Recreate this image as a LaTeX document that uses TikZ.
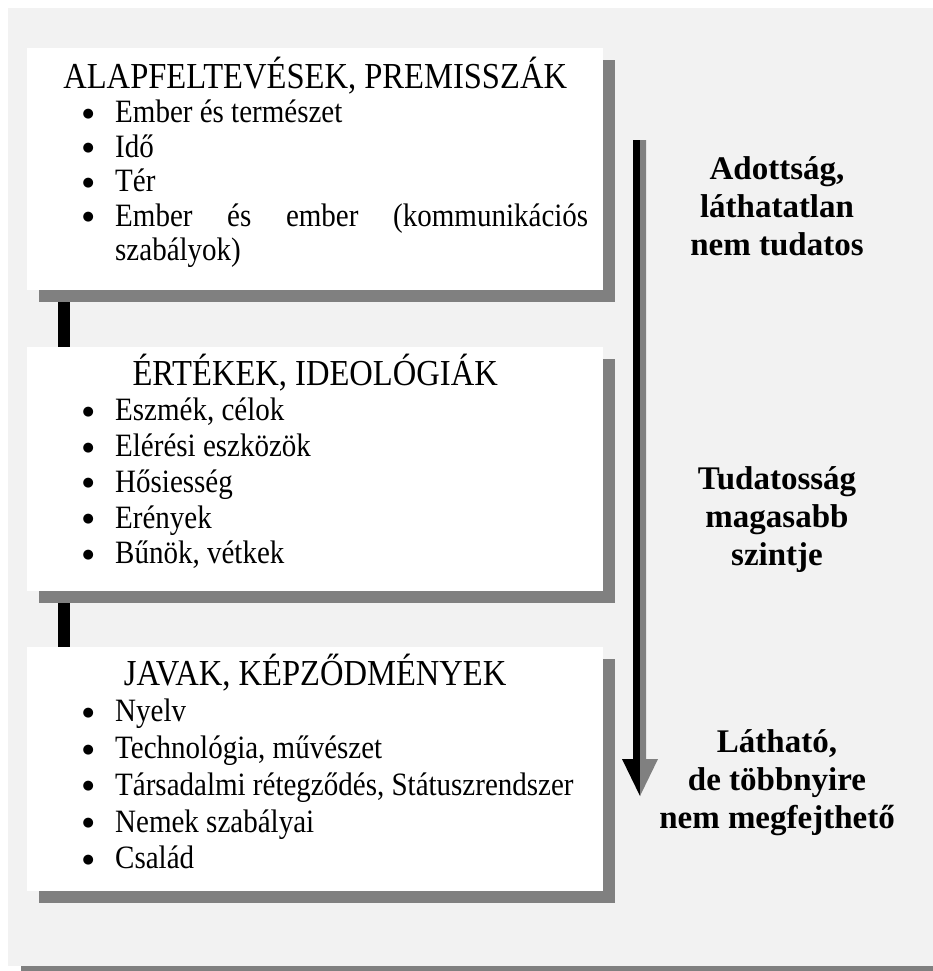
\documentclass[tikz,border=0pt]{standalone}
\usepackage{fontspec}
\setmainfont{Liberation Serif}
\newfontfamily\boxfont[FakeStretch=0.89]{Liberation Serif}
\newfontfamily\dotfont{DejaVu Sans}
\usepackage{tikz}
\usetikzlibrary{shadows}

\definecolor{panelgray}{HTML}{F2F2F2}
\definecolor{shadegray}{HTML}{808080}

% bullet line of a box
\newcommand{\bul}[1]{\par\noindent\llap{\makebox[10pt][c]{\raisebox{5.5pt}{\dotfont\fontsize{13}{13}\selectfont ●}}\hspace{22pt}}#1}
% box body: height, first baseline, title, line skip, items
\newcommand{\boxbody}[5]{%
  \parbox[c][#1][t]{546pt}{\boxfont\hyphenpenalty=10000\tolerance=10000\hbadness=10000
    {\centering\fontsize{36.6}{33}\selectfont\rule{0pt}{#2}#3\par}
    \leftskip=73pt\fontsize{32.6}{#4}\selectfont #5}}

\begin{document}
\begin{tikzpicture}[x=1pt, y=-1pt,
    pbox/.style={anchor=north west, fill=white, inner xsep=15pt, inner ysep=0pt,
      general shadow={fill=shadegray, shadow xshift=12pt, shadow yshift=-12pt}},
    link/.style={line width=12pt, black},
    lbl/.style={font=\bfseries\fontsize{33}{38}\selectfont, align=center},
]
  \useasboundingbox (0,0) rectangle (933,971);
  \fill[white] (0,0) rectangle (933,971);
  \fill[panelgray] (8,8) rectangle (933,966);
  \fill[shadegray] (21,966) rectangle (933,971);

  \node[pbox] (alap) at (27,48) {\boxbody{242pt}{40pt}{ALAPFELTEVÉSEK, PREMISSZÁK}{34.5pt}{%
    \bul{Ember és természet}
    \bul{Idő}
    \bul{Tér}
    \bul{Ember és ember (kommunikációs\linebreak szabályok)}}};
  \node[pbox] (ertek) at (27,347) {\boxbody{244pt}{38pt}{ÉRTÉKEK, IDEOLÓGIÁK}{35.7pt}{%
    \bul{Eszmék, célok}
    \bul{Elérési eszközök}
    \bul{Hősiesség}
    \bul{Erények}
    \bul{Bűnök, vétkek}}};
  \node[pbox] (javak) at (27,647) {\boxbody{244pt}{38pt}{JAVAK, KÉPZŐDMÉNYEK}{36.7pt}{%
    \bul{Nyelv}
    \bul{Technológia, művészet}
    \bul{Társadalmi rétegződés, Státuszrendszer}
    \bul{Nemek szabályai}
    \bul{Család}}};

  \draw[link] ([shift={(37pt,-12pt)}]alap.south west) -- ([xshift=37pt]ertek.north west);
  \draw[link] ([shift={(37pt,-12pt)}]ertek.south west) -- ([xshift=37pt]javak.north west);

  % arrow, black left half and grey right half
  \coordinate (atop) at (640,140);
  \coordinate (atip) at (640,796);
  \fill[black] ([xshift=-7pt]atop) -- (atop) -- (atip) -- ([shift={(-18pt,37pt)}]atip)
    -- ([shift={(-7pt,37pt)}]atip) -- cycle;
  \fill[shadegray] (atop) -- ([xshift=6pt]atop) -- ([shift={(6pt,37pt)}]atip)
    -- ([shift={(18pt,37pt)}]atip) -- (atip) -- cycle;

  \node[lbl] (given) at (777,206) {Adottság,\\láthatatlan\\nem tudatos};
  \node[lbl] (aware) at (777,520) {Tudatosság\\magasabb\\szintje};
  \node[lbl] (seen) at (777,783) {Látható,\\de többnyire\\nem megfejthető};
\end{tikzpicture}
\end{document}
